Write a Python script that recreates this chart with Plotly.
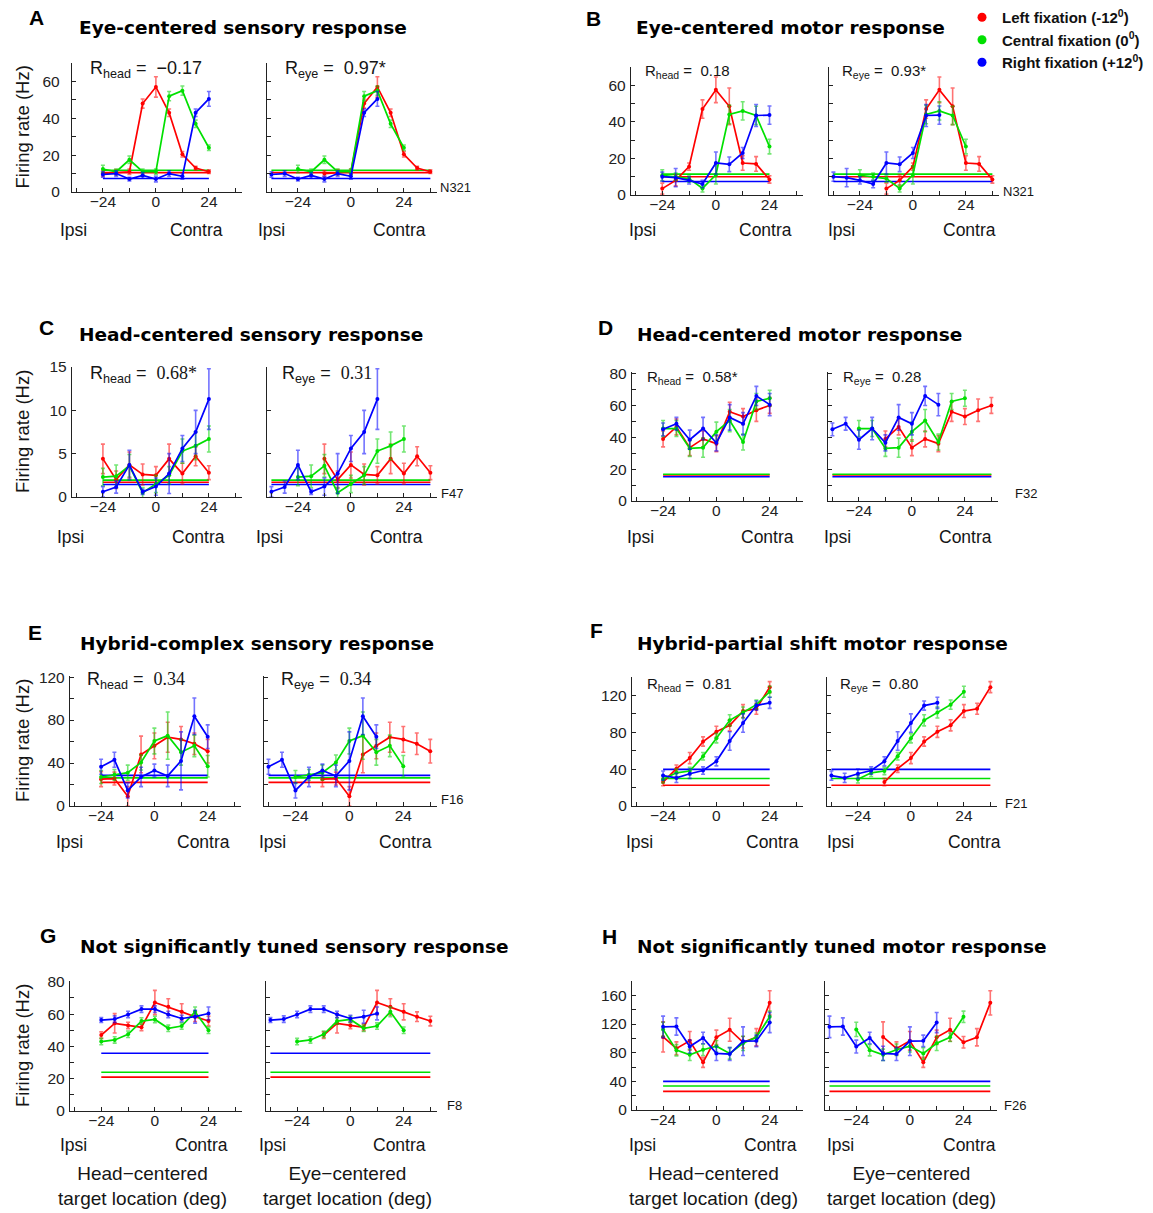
import plotly.graph_objects as go

W, H = 1153, 1213

# ---------------- data ----------------
head_locs = [-24, -18, -12, -6, 0, 6, 12, 18, 24]   # head-centered target location (deg)
fixations = [-12, 0, 12]                             # fixation positions (deg)
fix_names = ["Left fixation (-12<sup>0</sup>)", "Central fixation (0<sup>0</sup>)",
             "Right fixation (+12<sup>0</sup>)"]

# A  Eye-centered sensory response (N321)
A_left = [10, 10.7, 11, 48, 57, 43, 20.5, 13, 11]
A_left_err = [1.5, 1.5, 1.5, 2.5, 5.5, 2, 1.5, 1, 1]
A_central = [12.5, 11, 17.5, 11, 11, 52, 55, 37, 24]
A_central_err = [2, 1.5, 2, 1.5, 1.5, 2.5, 2.5, 2, 1.5]
A_right = [9.5, 10, 7, 9, 7, 10, 8.5, 43, 50.5]
A_right_err = [1.5, 1.5, 1, 1.5, 1.5, 1.5, 1.5, 2, 4]
A_base = [10.5, 11.8, 7.3]

# B  Eye-centered motor response (N321)
B_left = [3.5, 8, 15.5, 47, 57.5, 48.5, 17.5, 17, 8.5]
B_left_err = [3, 3, 2, 5, 7, 10, 4, 4, 2]
B_central = [10.8, 10, 9, 3.6, 11, 44, 46, 43.5, 26.5]
B_central_err = [3, 2, 2, 2, 5, 5, 5, 5, 4]
B_right = [10, 9.5, 8, 6, 17.5, 16.8, 23, 43.5, 43.7]
B_right_err = [2.5, 5, 2, 2, 6, 4, 3, 6, 5]
B_base = [10, 11.4, 7.4]

# C  Head-centered sensory response (F47)
C_left = [4.4, 2.0, 3.7, 2.6, 2.5, 4.4, 2.7, 4.7, 2.8]
C_left_err = [1.7, 1.0, 1.5, 1.2, 1.0, 1.7, 1.2, 1.1, 0.8]
C_central = [2.3, 2.4, 3.6, 0.5, 1.5, 2.5, 5.3, 5.9, 6.7]
C_central_err = [1.0, 1.3, 1.3, 0.6, 1.0, 1.0, 1.4, 1.6, 1.5]
C_right = [0.6, 1.15, 3.7, 0.6, 1.2, 2.7, 5.6, 7.5, 11.3]
C_right_err = [0.6, 0.7, 1.7, 0.3, 1.0, 2.3, 1.5, 2.5, 3.5]
C_base = [1.7, 1.95, 1.45]

# D  Head-centered motor response (F32)
D_left = [39, 46.5, 33.5, 39, 36, 56, 53, 57, 60]
D_left_err = [5, 5, 5, 5, 5, 6, 5, 7, 5]
D_central = [45.5, 45.5, 33, 33.5, 43.5, 50.5, 37, 62.5, 64.5]
D_central_err = [5, 5, 5, 6, 6, 7, 5, 5, 5]
D_right = [45, 48.5, 38.5, 45.5, 36.5, 52.5, 48.5, 66, 60.5]
D_right_err = [4, 4, 6, 7, 5, 8, 7, 6, 7]
D_base = [16.3, 16.8, 15.2]

# E  Hybrid-complex sensory response (F16)
E_left = [25, 25.5, 9, 48, 56, 64, 62, 58, 51]
E_left_err = [7, 6, 9, 17, 12, 14, 12, 10, 11]
E_central = [27, 29, 31, 40.5, 60.5, 65.5, 50, 56, 37]
E_central_err = [6, 5, 7, 7, 12, 22, 12, 10, 10]
E_right = [36.5, 43, 14.5, 27, 33, 28, 42, 83.5, 64.5]
E_right_err = [7, 7, 7, 9, 6, 10, 27, 17, 11]
E_base = [22, 26.2, 28.5]

# F  Hybrid-partial shift motor response (F21)
F_left = [26, 40.5, 52, 70, 80.5, 87.5, 103, 105.5, 129]
F_left_err = [4, 4, 6, 5, 6, 6, 7, 6, 6]
F_central = [29, 36, 38, 54, 73.5, 93, 101.5, 110, 124]
F_central_err = [4, 4, 4, 4, 5, 6, 6, 5, 6]
F_right = [33, 30.5, 35, 38.5, 48.5, 70.5, 90, 109, 112]
F_right_err = [5, 5, 5, 4, 5, 10, 10, 5, 6]
F_base = [22.5, 29.8, 39.8]

# G  Not significantly tuned sensory response (F8)
G_left = [47, 54.3, 53, 51.8, 67.2, 64.5, 61.4, 58.4, 55.7]
G_left_err = [2, 6, 2, 2, 7.5, 5, 5, 3, 3]
G_central = [43, 44, 47.5, 55.7, 56.7, 51.2, 52.6, 61.4, 50]
G_central_err = [2, 2, 2, 2, 2, 2, 2, 3, 2]
G_right = [56.3, 56.9, 59.8, 63.1, 63.1, 59.8, 57.3, 58.4, 60.4]
G_right_err = [1.5, 2, 2, 2, 2, 2, 2, 4, 4]
G_base = [21, 24, 35.8]

# H  Not significantly tuned motor response (F26)
H_left = [102, 86, 96.5, 66.5, 101.5, 112, 94.5, 101.5, 149.5]
H_left_err = [21, 9, 13, 7, 10, 16, 8, 12, 17]
H_central = [112.5, 83.5, 77, 84, 89, 79, 93, 101.5, 130]
H_central_err = [10, 8, 8, 8, 8, 8, 10, 6, 8]
H_right = [116, 116.5, 88.5, 100.5, 79, 78, 96, 96.5, 122]
H_right_err = [15, 12, 9, 8, 10, 9, 20, 8, 14]
H_base = [26, 33.5, 40]

x_tick_vals = [-24, 0, 24]
x_tick_labels = ["\u221224", "0", "24"]
x_minor_vals = [-36, -12, 12, 36]

# ---------------- styling / layout ----------------
line_colors = ["#ff0000", "#00e000", "#0000ff"]
err_colors = ["rgba(255,0,0,0.55)", "rgba(0,210,0,0.55)", "rgba(0,0,255,0.55)"]
SANS = "Liberation Sans"
BOLD = "DejaVu Sans"
SERIF = "Liberation Serif"
TXT = "#151515"

panels = [
    dict(letter="A", title="Eye-centered sensory response",
         rates=(A_left, A_central, A_right), errs=(A_left_err, A_central_err, A_right_err), base=A_base,
         rh="\u22120.17", re="0.97*", cell="N321", yr=[0, 70], yt=list(range(0, 71, 10)), yl=[0, 20, 40, 60],
         hx=(72, 242), ex=(267, 437), yy=(63, 192), letter_xy=(36, 17), title_xy=(77, 28),
         rh_xy=(88, 70), re_xy=(283, 70), rsize=18, serif=False, cell_xy=(438, 188),
         ipsi=(73, 271.5), contra=(196, 399.5), ic_y=230, ylab=True, ystand=8),
    dict(letter="B", title="Eye-centered motor response",
         rates=(B_left, B_central, B_right), errs=(B_left_err, B_central_err, B_right_err), base=B_base,
         rh="0.18", re="0.93*", cell="N321", yr=[0, 70], yt=list(range(0, 71, 10)), yl=[0, 20, 40, 60],
         hx=(631, 803), ex=(829, 999), yy=(67, 195), letter_xy=(593, 18), title_xy=(634, 28),
         rh_xy=(643, 71), re_xy=(840, 71), rsize=15, serif=False, cell_xy=(1001, 191),
         ipsi=(642, 841), contra=(765.5, 969.5), ic_y=230, ylab=False, ystand=1),
    dict(letter="C", title="Head-centered sensory response",
         rates=(C_left, C_central, C_right), errs=(C_left_err, C_central_err, C_right_err), base=C_base,
         rh="0.68*", re="0.31", cell="F47", yr=[0, 15], yt=[0, 5, 10, 15], yl=[0, 5, 10, 15],
         hx=(72, 242), ex=(267, 437), yy=(367, 497), letter_xy=(46.5, 328), title_xy=(77, 335),
         rh_xy=(88, 374), re_xy=(280, 374), rsize=18, serif=True, cell_xy=(439, 493),
         ipsi=(70, 269), contra=(198.3, 396.7), ic_y=537, ylab=True, ystand=1),
    dict(letter="D", title="Head-centered motor response",
         rates=(D_left, D_central, D_right), errs=(D_left_err, D_central_err, D_right_err), base=D_base,
         rh="0.58*", re="0.28", cell="F32", yr=[0, 81], yt=list(range(0, 81, 10)), yl=[0, 20, 40, 60, 80],
         hx=(632, 803), ex=(828, 998), yy=(372, 501), letter_xy=(605.5, 327.5), title_xy=(635, 335),
         rh_xy=(645, 377), re_xy=(841, 377), rsize=15, serif=False, cell_xy=(1013, 493),
         ipsi=(640, 837.5), contra=(767, 965.5), ic_y=537, ylab=False, ystand=1),
    dict(letter="E", title="Hybrid-complex sensory response",
         rates=(E_left, E_central, E_right), errs=(E_left_err, E_central_err, E_right_err), base=E_base,
         rh="0.34", re="0.34", cell="F16", yr=[0, 121], yt=list(range(0, 121, 20)), yl=[0, 40, 80, 120],
         hx=(70, 241), ex=(264, 437), yy=(676, 806), letter_xy=(34.5, 632), title_xy=(78, 643),
         rh_xy=(85, 680), re_xy=(279, 680), rsize=18, serif=True, cell_xy=(439, 799),
         ipsi=(69, 272), contra=(203.3, 405), ic_y=842, ylab=True, ystand=1),
    dict(letter="F", title="Hybrid-partial shift motor response",
         rates=(F_left, F_central, F_right), errs=(F_left_err, F_central_err, F_right_err), base=F_base,
         rh="0.81", re="0.80", cell="F21", yr=[0, 140], yt=list(range(0, 141, 20)), yl=[0, 40, 80, 120],
         hx=(632, 803), ex=(827, 997), yy=(677, 806), letter_xy=(596.5, 630.5), title_xy=(635, 643),
         rh_xy=(645, 684), re_xy=(838, 684), rsize=15, serif=False, cell_xy=(1003, 803),
         ipsi=(639.5, 840), contra=(772, 974), ic_y=842, ylab=False, ystand=1),
    dict(letter="G", title="Not significantly tuned sensory response",
         rates=(G_left, G_central, G_right), errs=(G_left_err, G_central_err, G_right_err), base=G_base,
         rh=None, re=None, cell="F8", yr=[0, 80.5], yt=list(range(0, 81, 10)), yl=[0, 20, 40, 60, 80],
         hx=(70, 242), ex=(266, 437), yy=(981, 1111), letter_xy=(48.5, 935.5), title_xy=(78, 946),
         rh_xy=None, re_xy=None, rsize=18, serif=False, cell_xy=(445, 1105),
         ipsi=(73, 272), contra=(201, 399.5), ic_y=1145, ylab=True, ystand=1,
         bottom=(142.5, 347.5)),
    dict(letter="H", title="Not significantly tuned motor response",
         rates=(H_left, H_central, H_right), errs=(H_left_err, H_central_err, H_right_err), base=H_base,
         rh=None, re=None, cell="F26", yr=[0, 180], yt=list(range(0, 161, 20)), yl=[0, 40, 80, 120, 160],
         hx=(632, 803), ex=(825, 997), yy=(981, 1110), letter_xy=(609.5, 936), title_xy=(635, 946),
         rh_xy=None, re_xy=None, rsize=15, serif=False, cell_xy=(1002, 1105),
         ipsi=(642.5, 840), contra=(770.5, 969), ic_y=1145, ylab=False, ystand=1,
         bottom=(713, 911)),
]


def px(x, y):
    return x / W, 1 - y / H


def ann(text, x, y, size, family=SANS, xanchor="center", yanchor="middle", angle=0, color=TXT,
        weight="normal"):
    ax, ay = px(x, y)
    return dict(text=text, x=ax, y=ay, xref="paper", yref="paper", showarrow=False,
                xanchor=xanchor, yanchor=yanchor, textangle=angle,
                font=dict(size=size, family=family, color=color, weight=weight))


fig = go.Figure()
layout = dict(width=W, height=H, autosize=False,
              margin=dict(l=0, r=0, t=0, b=0, pad=0, autoexpand=False),
              paper_bgcolor="white", plot_bgcolor="white", font=dict(family=SANS, color=TXT))
annotations = []

eye_all = [h - f for f in fixations for h in head_locs]
eye_span = [min(eye_all), max(eye_all)]
head_span = [min(head_locs), max(head_locs)]

tick_style = dict(ticks="inside", ticklen=4, tickwidth=1, tickcolor="#222")

k = 0
for p in panels:
    for j, frame in enumerate(("head", "eye")):
        k += 1
        xid = "x" if k == 1 else f"x{k}"
        yid = "y" if k == 1 else f"y{k}"
        xkey = "xaxis" if k == 1 else f"xaxis{k}"
        ykey = "yaxis" if k == 1 else f"yaxis{k}"
        x0, x1 = p["hx"] if frame == "head" else p["ex"]
        ytop, ybot = p["yy"]
        layout[xkey] = dict(domain=[x0 / W, x1 / W], range=[-38, 39], anchor=yid, automargin=False,
                            tickmode="array", tickvals=x_tick_vals, ticktext=x_tick_labels,
                            minor=dict(tickvals=x_minor_vals, **tick_style),
                            showline=True, linecolor="#222", linewidth=1.3,
                            showgrid=False, zeroline=False, fixedrange=True,
                            ticklabelstandoff=-5,
                            tickfont=dict(size=15.5, color="#222", family=SANS), **tick_style)
        if frame == "head":
            ymaj = p["yl"]
            ymin = [v for v in p["yt"] if v not in p["yl"]]
            yax = dict(tickmode="array", tickvals=ymaj, ticktext=[str(v) for v in ymaj],
                       showticklabels=True)
            if ymin:
                yax["minor"] = dict(tickvals=ymin, **tick_style)
        else:
            yax = dict(tickmode="array", tickvals=p["yt"], showticklabels=False)
        yax.update(domain=[1 - ybot / H, 1 - ytop / H], range=p["yr"], anchor=xid, automargin=False,
                   showline=True, linecolor="#222", linewidth=1.3,
                   showgrid=False, zeroline=False, fixedrange=True,
                   ticklabelstandoff=p["ystand"],
                   tickfont=dict(size=15.5, color="#222", family=SANS), **tick_style)
        layout[ykey] = yax
        span = head_span if frame == "head" else eye_span
        # baselines
        for i in range(3):
            fig.add_trace(go.Scatter(x=span, y=[p["base"][i]] * 2, mode="lines",
                                     line=dict(color=line_colors[i], width=1.6),
                                     xaxis=xid, yaxis=yid, showlegend=False, hoverinfo="skip"))
        # tuning curves
        for i in range(3):
            locs = head_locs if frame == "head" else [h - fixations[i] for h in head_locs]
            fig.add_trace(go.Scatter(x=locs, y=p["rates"][i], mode="lines+markers",
                                     line=dict(color=line_colors[i], width=1.7),
                                     marker=dict(color=line_colors[i], size=4),
                                     error_y=dict(type="data", array=p["errs"][i], visible=True,
                                                  color=err_colors[i], thickness=1.6, width=2),
                                     xaxis=xid, yaxis=yid, showlegend=False))
        # Ipsi / Contra
        annotations.append(ann("Ipsi", p["ipsi"][j], p["ic_y"], 17.5))
        annotations.append(ann("Contra", p["contra"][j], p["ic_y"], 17.5))

    # texts per panel
    annotations.append(ann(p["letter"], *p["letter_xy"], 21, family=SANS, color="#000", weight="bold"))
    annotations.append(ann(p["title"], *p["title_xy"], 18.5, family=BOLD,
                           xanchor="left", color="#000", weight="bold"))
    if p["rh"] is not None:
        def val(v):
            if p["serif"]:
                return f'<span style="font-family:{SERIF}">{v}</span>'
            return v
        annotations.append(ann(f"R<sub>head</sub> =  {val(p['rh'])}", *p["rh_xy"], p["rsize"],
                               xanchor="left"))
        annotations.append(ann(f"R<sub>eye</sub> =  {val(p['re'])}", *p["re_xy"], p["rsize"],
                               xanchor="left"))
    annotations.append(ann(p["cell"], *p["cell_xy"], 13, xanchor="left"))
    if p["ylab"]:
        yc = (p["yy"][0] + p["yy"][1]) / 2
        annotations.append(ann("Firing rate (Hz)", 22, yc, 18.5, angle=-90))
    if "bottom" in p:
        annotations.append(ann("Head\u2212centered<br>target location (deg)", p["bottom"][0], 1185.5, 19))
        annotations.append(ann("Eye\u2212centered<br>target location (deg)", p["bottom"][1], 1185.5, 19))

# legend entries
for i in range(3):
    fig.add_trace(go.Scatter(x=[None], y=[None], mode="markers", name=fix_names[i],
                             marker=dict(color=line_colors[i], size=9), showlegend=True))

layout["annotations"] = annotations
lx, ly = px(962, 1)
layout["legend"] = dict(x=lx, y=ly, xanchor="left", yanchor="top", bgcolor="rgba(0,0,0,0)",
                        font=dict(family=SANS, size=15, color="#111", weight="bold"),
                        itemwidth=30, tracegroupgap=0)
fig.update_layout(**layout)
fig.write_html("out.html")
